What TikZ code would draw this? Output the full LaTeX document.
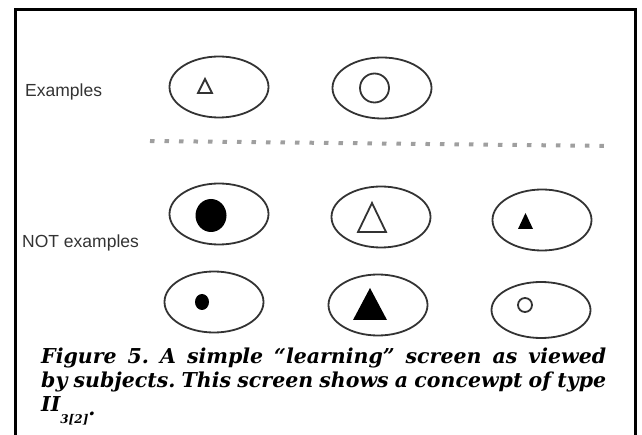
\documentclass[tikz,border=0pt]{standalone}
\usepackage{fontspec}
\setmainfont{DejaVu Serif}
\newfontfamily\labelfont{Liberation Sans}
\usepackage{xcolor}
\usetikzlibrary{shapes.geometric}
\frenchspacing
\definecolor{inkgray}{HTML}{333333}
\tikzstyle{line}=[draw]
\tikzstyle{card}=[draw=inkgray, line width=1.8pt, ellipse, minimum width=99pt, minimum height=61pt, inner sep=0pt]
\tikzstyle{blob}=[ellipse, inner sep=0pt]
\tikzstyle{label}=[font=\labelfont\fontsize{17.5}{19}\selectfont, text=black!80, anchor=base west, inner sep=0pt]
\tikzstyle{caption}=[font=\bfseries\itshape\fontsize{20.5}{24}\selectfont, anchor=base west, inner sep=0pt]

\begin{document}
\begin{tikzpicture}[x=1pt,y=-1pt]
\useasboundingbox (0,0) rectangle (642,435);
\draw[line,line width=3pt,-] (15,436)--(15,10)--(635,10)--(635,436);
\node[label](ex)at (25,97){Examples};
\node[label](notex)at (22,248){NOT examples};
% examples
\node[card](a1)at (219,87){};
\node[card](a2)at (382,88){};
\draw[line,inkgray,line width=1.8pt,line join=miter] (198,93)--(212,93)--(205,79)--cycle;
\node[blob,draw=inkgray,line width=1.8pt,minimum width=29pt,minimum height=29pt](a2c)at (374.5,88){};
% separator
\draw[line,gray!75,line width=4pt,dash pattern=on 4.5pt off 10pt] (150,141)--(612,146);
% not examples
\node[card](b1)at (219,214){};
\node[card](b2)at (381,217){};
\node[card](b3)at (542,220){};
\node[card](c1)at (214,302){};
\node[card](c2)at (378,305){};
\node[card,minimum height=56pt](c3)at (541,310){};
\node[blob,fill=black,minimum width=31pt,minimum height=33pt](b1s)at (211,215.5){};
\draw[line,inkgray,line width=1.8pt,line join=miter] (358,232)--(386,232)--(372,203)--cycle;
\fill (518,229)--(533,229)--(525.5,213)--cycle;
\node[blob,fill=black,minimum width=14pt,minimum height=16pt](c1s)at (202,302){};
\fill (353,320)--(387,320)--(370,288)--cycle;
\node[blob,draw=inkgray,line width=1.8pt,minimum width=14pt,minimum height=14pt](c3s)at (525,305){};
% caption
\node[caption](cap1)at (41,363){\makebox[565pt][s]{Figure 5. A simple “learning” screen as viewed}};
\node[caption](cap2)at (41,387){\makebox[565pt][s]{by subjects. This screen shows a concewpt of type}};
\node[caption](cap3)at (41,411){II\raisebox{-12pt}{\fontsize{12}{12}\selectfont 3[2]}\raisebox{-4pt}{.}};
\end{tikzpicture}
\end{document}
